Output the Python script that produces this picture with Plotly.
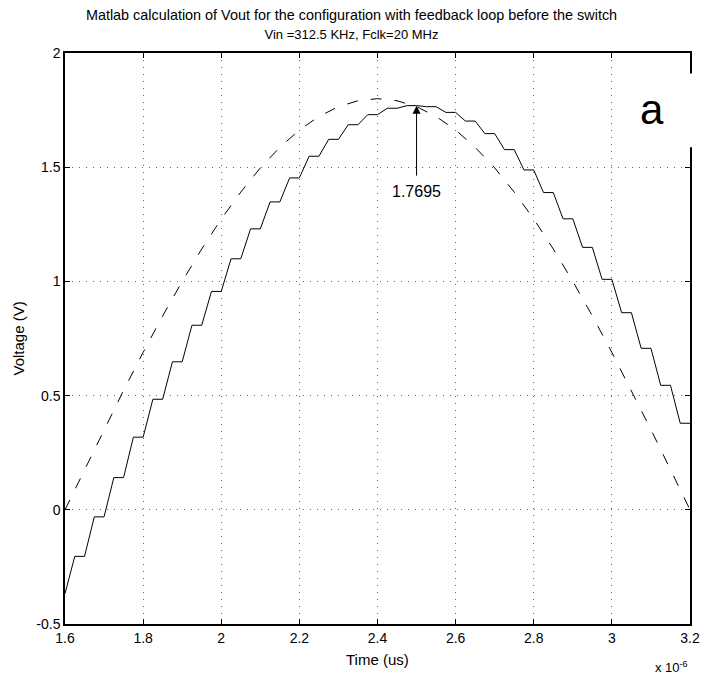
import numpy as np
import plotly.graph_objects as go

# ---- data (time in microseconds, voltage in volts) ----
sample_time_us = [1.60, 1.65, 1.70, 1.75, 1.80, 1.85, 1.90, 1.95, 2.00, 2.05, 2.10,
                  2.15, 2.20, 2.25, 2.30, 2.35, 2.40, 2.45, 2.50, 2.55, 2.60, 2.65,
                  2.70, 2.75, 2.80, 2.85, 2.90, 2.95, 3.00, 3.05, 3.10, 3.15, 3.20]

# ideal input (dashed)
vin_ideal = [0.000, 0.176, 0.351, 0.523, 0.689, 0.849, 1.000, 1.142, 1.273, 1.391, 1.497,
             1.587, 1.663, 1.722, 1.765, 1.791, 1.800, 1.791, 1.765, 1.722, 1.663, 1.587,
             1.497, 1.391, 1.273, 1.142, 1.000, 0.849, 0.689, 0.523, 0.351, 0.176, 0.000]

# calculated Vout levels (solid staircase), one level per clock period
vout_levels = [-0.367, -0.204, -0.031, 0.141, 0.318, 0.484, 0.648, 0.808, 0.956, 1.099, 1.230,
               1.348, 1.453, 1.548, 1.622, 1.686, 1.730, 1.758, 1.7695, 1.765, 1.740, 1.702,
               1.647, 1.577, 1.488, 1.389, 1.274, 1.149, 1.009, 0.863, 0.707, 0.545, 0.379]

hold_delay_us = 0.025  # level change happens half a clock period after the previous sample

x_ticks_us = [1.6, 1.8, 2.0, 2.2, 2.4, 2.6, 2.8, 3.0, 3.2]
x_tick_text = ["1.6", "1.8", "2", "2.2", "2.4", "2.6", "2.8", "3", "3.2"]
y_ticks = [-0.5, 0, 0.5, 1, 1.5, 2]
y_tick_text = ["-0.5", "0", "0.5", "1", "1.5", "2"]

# ---- build staircase polyline from levels ----
ts = np.array(sample_time_us)
lv = np.array(vout_levels)
step_x = [ts[0]]
step_y = [lv[0]]
for k in range(1, len(ts)):
    step_x += [ts[k] - hold_delay_us, ts[k]]
    step_y += [lv[k], lv[k]]
step_x = np.array(step_x) * 1e-6

fig = go.Figure()
fig.add_trace(go.Scatter(x=ts * 1e-6, y=vin_ideal, mode="lines",
                         line=dict(color="black", width=1, dash="11px,13px"),
                         hoverinfo="skip", showlegend=False))
fig.add_trace(go.Scatter(x=step_x, y=step_y, mode="lines",
                         line=dict(color="black", width=1),
                         hoverinfo="skip", showlegend=False))

font_family = "Liberation Sans, Arial, Helvetica, sans-serif"

axis_common = dict(showline=True, linecolor="black", linewidth=1.5, mirror="ticks",
                   ticks="inside", ticklen=5, tickcolor="black", tickwidth=1,
                   showgrid=True, gridcolor="#666666", gridwidth=1, griddash="1px,6px",
                   zeroline=False, ticklabeloverflow="allow", automargin=False,
                   tickfont=dict(size=14, color="black", family=font_family))

fig.update_xaxes(range=[1.6e-6, 3.2e-6], tickvals=[v * 1e-6 for v in x_ticks_us],
                 ticktext=x_tick_text, **axis_common)
fig.update_yaxes(range=[-0.5, 2], tickvals=y_ticks, ticktext=y_tick_text, **axis_common)

# peak annotation
imax = int(np.argmax(lv))
fig.add_annotation(x=ts[imax] * 1e-6, y=lv[imax], text=f"{lv[imax]:.4f}",
                   showarrow=True, arrowhead=2, arrowsize=1.6, arrowwidth=1, arrowcolor="black",
                   ax=0, ay=86, startstandoff=6,
                   font=dict(size=16, color="black", family=font_family))

# white box with label "a"
fig.add_shape(type="rect", xref="paper", yref="paper", x0=0.896, x1=1.03, y0=0.835, y1=0.964,
              fillcolor="white", line=dict(width=0), layer="above")
fig.add_annotation(xref="paper", yref="paper", x=0.939, y=0.901, text="a", showarrow=False,
                   xanchor="center", yanchor="middle",
                   font=dict(size=42, color="black", family=font_family))

# axis labels
fig.add_annotation(xref="paper", yref="paper", x=0.5, y=-0.063, text="Time (us)",
                   showarrow=False, xanchor="center", yanchor="middle",
                   font=dict(size=15, color="black", family=font_family))
fig.add_annotation(xref="paper", yref="paper", x=-0.0752, y=0.5, text="Voltage (V)",
                   textangle=-90, showarrow=False, xanchor="center", yanchor="middle",
                   font=dict(size=15, color="black", family=font_family))
fig.add_annotation(xref="paper", yref="paper", x=1.0, y=-0.058, text="x 10<sup>-6</sup>",
                   showarrow=False, xanchor="right", yanchor="top",
                   font=dict(size=13, color="black", family=font_family))

fig.update_layout(
    width=703, height=677,
    margin=dict(l=65, r=13, t=53, b=53, autoexpand=False),
    paper_bgcolor="white", plot_bgcolor="white",
    title=dict(text="Matlab calculation of Vout for the configuration with feedback loop before the switch"
                    "<br><span style='font-size:13px'>Vin =312.5 KHz, Fclk=20 MHz</span>",
               x=0.5, xref="container", xanchor="center",
               y=1 - 20 / 677, yref="container", yanchor="middle",
               font=dict(size=14.4, color="black", family=font_family)),
)

fig.write_html("out.html", config={"displayModeBar": False, "responsive": False},
               post_script="document.body.style.margin='0';document.body.style.overflow='hidden';")
